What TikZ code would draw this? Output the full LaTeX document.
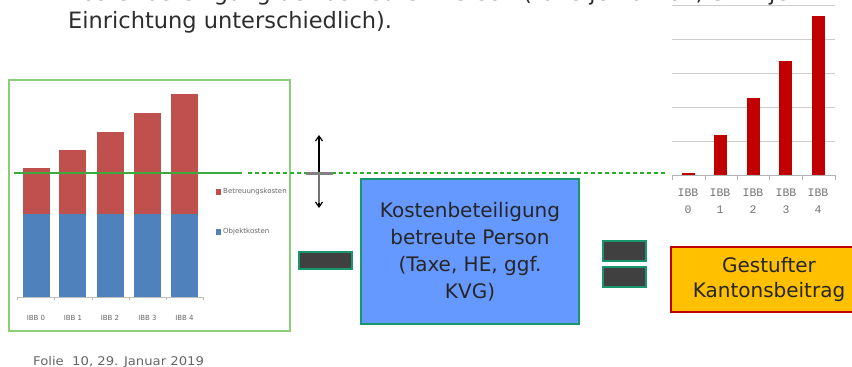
\documentclass[tikz,border=0pt]{standalone}
\usepackage{fontspec}
\setmainfont{DejaVu Sans}
\newfontfamily\monof{Liberation Mono}
\usetikzlibrary{arrows.meta}
\definecolor{barblue}{RGB}{79,129,189}
\definecolor{barred}{RGB}{192,80,77}
\definecolor{framegreen}{RGB}{140,205,120}
\definecolor{linegreen}{RGB}{60,170,60}
\definecolor{dashgreen}{RGB}{40,175,40}
\definecolor{boxblue}{RGB}{102,153,255}
\definecolor{tealb}{RGB}{25,150,110}
\definecolor{signgray}{RGB}{64,64,64}
\definecolor{kgelb}{RGB}{255,192,0}
\definecolor{kred}{RGB}{192,0,0}
\definecolor{txtgray}{RGB}{45,45,45}
\tikzset{
  signbox/.style={draw=tealb, fill=signgray, line width=1.2pt, inner sep=0pt},
  tinylabel/.style={font=\fontsize{7}{8}\selectfont, text=black!60, inner sep=0pt},
  monolabel/.style={font=\monof\fontsize{11.5}{12}\selectfont, text=black!55, inner sep=0pt},
  headline/.style={anchor=base west, inner sep=0pt, font=\fontsize{22.5}{27}\selectfont, text=txtgray},
  dblarrow/.style={{Straight Barb[length=5pt,width=7pt]}-{Straight Barb[length=5pt,width=7pt]}, line width=1.2pt},
}
\begin{document}
\begin{tikzpicture}[x=1pt,y=-1pt]
\useasboundingbox (0,0) rectangle (852,367);
\clip (0,0) rectangle (852,367);

% heading text (first line cut off at the top)
\node[headline] (t1) at (68,0) {Kostenbeteiligung der betreuten Person (Taxe je Kanton, evtl. je};
\node[headline] (t2) at (68,28) {Einrichtung unterschiedlich).};

% right chart
\foreach \y in {5,39,73,107,141} \draw[gray!40, line width=1pt] (672,\y) -- (835,\y);
\draw[gray!60] (672,175) -- (835,175);
\foreach \x in {672,705,737,769,802,835} \draw[gray!60] (\x,175) -- (\x,180);
\foreach \x/\t in {682/173, 714/135, 747/98, 779/61, 812/16} \fill[kred] (\x,175) rectangle (\x+13,\t);
\foreach \i/\x in {0/688,1/720,2/753,3/786,4/818} {
  \node[monolabel] at (\x,193) {IBB};
  \node[monolabel] at (\x,210) {\i};
}

% left chart
\node[draw=framegreen, line width=1.2pt, minimum width=281, minimum height=251, inner sep=0pt] (frame) at (149.5,205.5) {};
\foreach \x/\t in {23/168, 59/150, 97/132, 134/113, 171/94} {
  \fill[barblue] (\x,297) rectangle (\x+27,214);
  \fill[barred] (\x,214) rectangle (\x+27,\t);
}
\draw[gray!50] (17,297) -- (203,297);
\foreach \x in {17,54,92,129,166,203} \draw[gray!50] (\x,297) -- (\x,300);
\foreach \i/\x in {0/36,1/73,2/110,3/147.5,4/184.5} \node[tinylabel] at (\x,318) {IBB \i};
\fill[barred] (216,189) rectangle (221,195);
\node[tinylabel, anchor=west] at (223,192) {Betreuungskosten};
\fill[barblue] (216,229) rectangle (221,235);
\node[tinylabel, anchor=west] at (223,232) {Objektkosten};

% level line
\coordinate (gl0) at (14,173);
\coordinate (gl1) at (242,173);
\coordinate (gl2) at (248,173);
\coordinate (gl3) at (665,173);
\draw[linegreen, line width=1.3pt] (gl0) -- (gl1);
\draw[dashgreen, line width=1.1pt, dash pattern=on 4pt off 3pt] (gl2) -- (gl3);

% double arrow
\coordinate (au) at (319,135);
\coordinate (ad) at (319,208);
\draw[dblarrow] (au) -- (ad);
\draw[black!50, line width=3pt] (306,173) -- (333,173);
\draw[black!55, line width=1.4pt] (319,175) -- (319,203);

% operators and boxes
\node[signbox, minimum width=53, minimum height=17] (minus) at (325.5,260.5) {};
\node[draw=tealb, fill=boxblue, line width=1.5pt, minimum width=218, minimum height=145, inner sep=0pt,
      align=center, font=\fontsize{20}{27}\selectfont, text=black!85] (kb) at (470,251.5)
      {Kostenbeteiligung\\betreute Person\\(Taxe, HE, ggf.\\KVG)};
\node[signbox, minimum width=43, minimum height=20] (eq1) at (624.5,251) {};
\node[signbox, minimum width=43, minimum height=20] (eq2) at (624.5,277) {};
\node[draw=kred, fill=kgelb, line width=1.5pt, minimum width=196, minimum height=65, inner sep=0pt,
      align=center, font=\fontsize{20}{25}\selectfont, text=black!85] (kt) at (769,279.5)
      {Gestufter\\Kantonsbeitrag};

% footer
\node[anchor=base west, inner sep=0pt, font=\fontsize{12}{14}\selectfont, text=black!60] (foot) at (33,365) {\scalebox{1.1}[1]{Folie\ \ 10, 29. Januar 2019}};
\end{tikzpicture}
\end{document}
